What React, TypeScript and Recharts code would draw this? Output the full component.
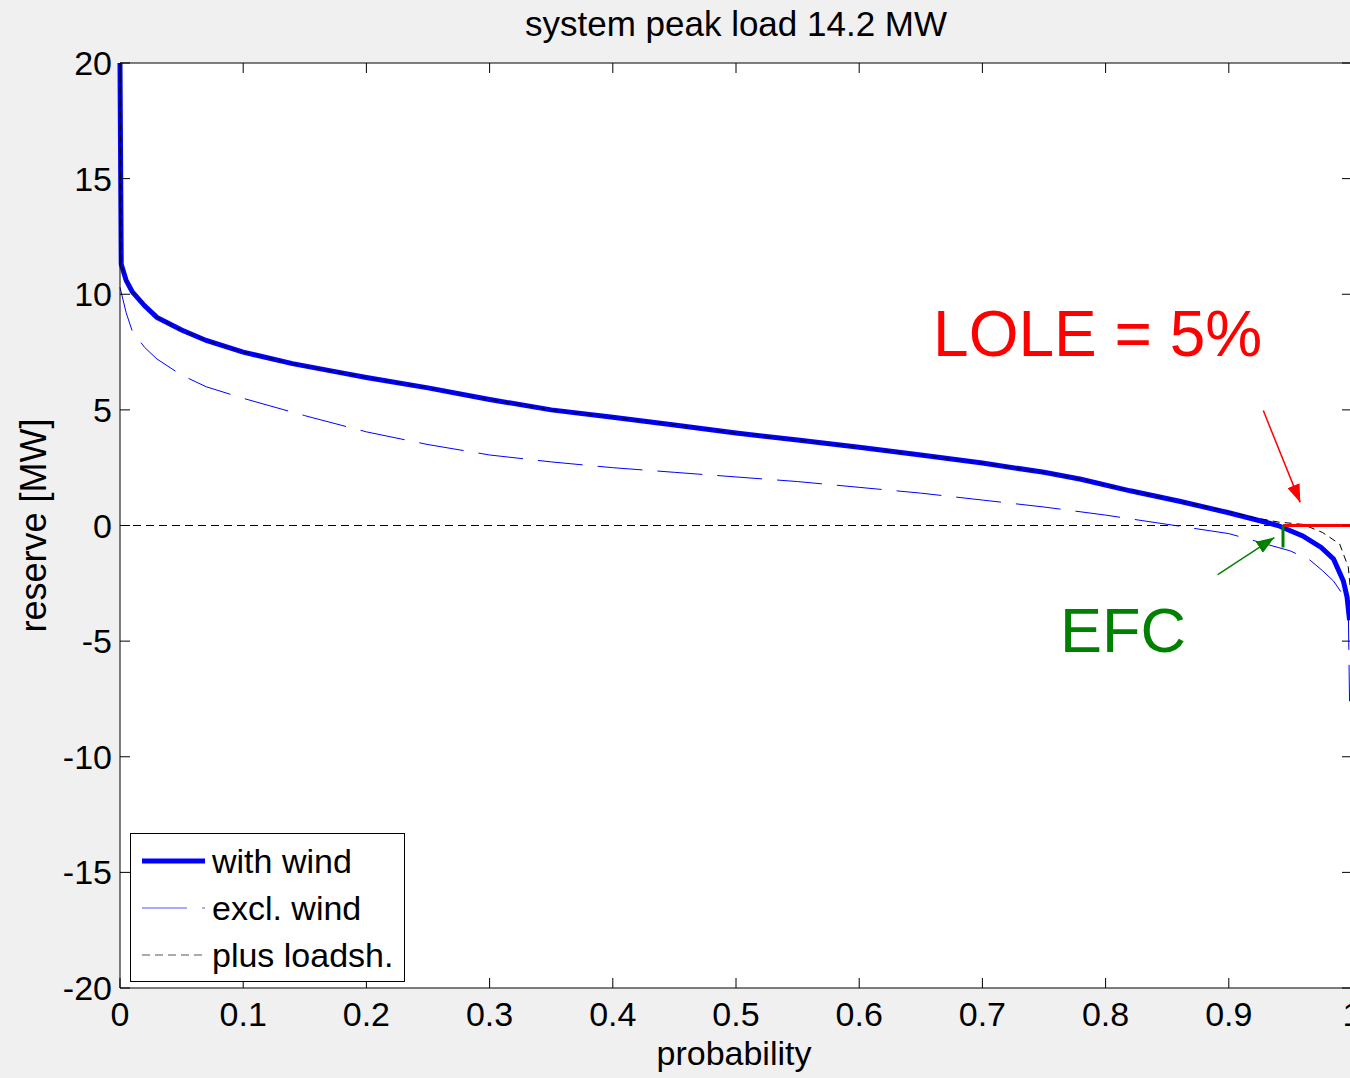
import {
  CartesianGrid,
  Legend,
  Line,
  LineChart,
  ReferenceDot,
  ReferenceLine,
  XAxis,
  YAxis,
} from "recharts";

const FONT = '"Liberation Sans", Arial, Helvetica, sans-serif';

// axis ticks
const xTicks = [0, 0.1, 0.2, 0.3, 0.4, 0.5, 0.6, 0.7, 0.8, 0.9, 1];
const yTicks = [-20, -15, -10, -5, 0, 5, 10, 15, 20];

// [probability, reserve MW]
const withWind: [number, number][] = [
  [0, 20], [0.001, 11.3], [0.005, 10.6], [0.01, 10.1], [0.02, 9.5], [0.03, 9.0],
  [0.05, 8.45], [0.07, 8.0], [0.1, 7.5], [0.14, 7.0], [0.18, 6.6], [0.2, 6.4],
  [0.25, 5.95], [0.3, 5.45], [0.35, 5.0], [0.4, 4.68], [0.45, 4.35], [0.5, 4.0],
  [0.55, 3.7], [0.6, 3.38], [0.65, 3.05], [0.7, 2.7], [0.75, 2.3], [0.78, 2.0],
  [0.82, 1.5], [0.86, 1.05], [0.9, 0.55], [0.94, 0.0], [0.96, -0.45],
  [0.975, -0.95], [0.985, -1.45], [0.993, -2.4], [0.996, -3.1], [0.998, -4.1],
];

const exclWind: [number, number][] = [
  [0, 10.3], [0.005, 9.2], [0.01, 8.4], [0.02, 7.7], [0.03, 7.2], [0.05, 6.5],
  [0.07, 6.0], [0.1, 5.5], [0.15, 4.75], [0.2, 4.05], [0.25, 3.5], [0.3, 3.05],
  [0.35, 2.75], [0.4, 2.5], [0.45, 2.3], [0.5, 2.1], [0.55, 1.9], [0.6, 1.65],
  [0.65, 1.4], [0.7, 1.1], [0.75, 0.8], [0.8, 0.45], [0.85, 0.05], [0.9, -0.35],
  [0.94, -0.95], [0.95, -1.1], [0.966, -1.5], [0.976, -1.95], [0.985, -2.4],
  [0.994, -3.1], [0.997, -3.6], [0.998, -7.6],
];

const plusLoadsh: [number, number][] = [
  [0, 20], [0.001, 11.3], [0.005, 10.6], [0.01, 10.1], [0.02, 9.5], [0.03, 9.0],
  [0.05, 8.45], [0.07, 8.0], [0.1, 7.5], [0.14, 7.0], [0.18, 6.6], [0.2, 6.4],
  [0.25, 5.95], [0.3, 5.45], [0.35, 5.0], [0.4, 4.68], [0.45, 4.35], [0.5, 4.0],
  [0.55, 3.7], [0.6, 3.38], [0.65, 3.05], [0.7, 2.7], [0.75, 2.3], [0.78, 2.0],
  [0.82, 1.5], [0.86, 1.05], [0.9, 0.6], [0.92, 0.35], [0.94, 0.15], [0.96, 0.05],
  [0.976, -0.3], [0.99, -0.8], [0.997, -1.8], [1.0, -3.5],
];

const seriesNames = ["with wind", "excl. wind", "plus loadsh."];

// annotations (data coordinates)
const loleArrow = [{ x: 0.928, y: 4.97 }, { x: 0.958, y: 1.0 }];
const efcArrow = [{ x: 0.891, y: -2.12 }, { x: 0.937, y: -0.52 }];
const loleLevel = [{ x: 0.944, y: 0 }, { x: 1, y: 0 }];
const efcMark = [{ x: 0.944, y: 0 }, { x: 0.944, y: -0.95 }];

const toRows = (pts: [number, number][]) => pts.map(([p, r]) => ({ p, r }));

const CHART_W = 1362;
const CHART_H = 1078;
const Y_AXIS_W = 120;
const X_AXIS_H = 90;
const MARGIN = { top: 63, right: 10, bottom: 0, left: 0 };
const PLOT_W = CHART_W - MARGIN.left - MARGIN.right - Y_AXIS_W;
const PLOT_H = CHART_H - MARGIN.top - MARGIN.bottom - X_AXIS_H;
const TICK = 10;

const XTick = (props: any) => {
  const { x, y, payload } = props;
  return (
    <g>
      <line x1={x} y1={y} x2={x} y2={y - TICK} stroke="#000" />
      <line x1={x} y1={y - PLOT_H} x2={x} y2={y - PLOT_H + TICK} stroke="#000" />
      <text x={x} y={y + 38} textAnchor="middle" fontSize={34} fontFamily={FONT} fill="#000">
        {payload.value}
      </text>
    </g>
  );
};

const YTick = (props: any) => {
  const { x, y, payload } = props;
  return (
    <g>
      <line x1={x} y1={y} x2={x + TICK} y2={y} stroke="#000" />
      <line x1={x + PLOT_W} y1={y} x2={x + PLOT_W - TICK} y2={y} stroke="#000" />
      <text x={x - 8} y={y + 12} textAnchor="end" fontSize={34} fontFamily={FONT} fill="#000">
        {payload.value}
      </text>
    </g>
  );
};

const LegendBox = () => {
  const rows = [28, 75, 122];
  const styles = [
    { stroke: "#0000ff", strokeWidth: 5, dash: undefined },
    { stroke: "#5555ff", strokeWidth: 1, dash: "45 15" },
    { stroke: "#555", strokeWidth: 1, dash: "8 5" },
  ];
  return (
    <svg width={276} height={150} style={{ display: "block" }}>
      <rect x={0.5} y={0.5} width={274} height={148} fill="#fff" stroke="#000" />
      {seriesNames.map((name, i) => (
        <g key={name}>
          <line
            x1={12}
            x2={75}
            y1={rows[i]}
            y2={rows[i]}
            stroke={styles[i].stroke}
            strokeWidth={styles[i].strokeWidth}
            strokeDasharray={styles[i].dash}
          />
          <text x={82} y={rows[i] + 12} fontSize={34} fontFamily={FONT} fill="#000">
            {name}
          </text>
        </g>
      ))}
    </svg>
  );
};

export default function App() {
  return (
    <div
      style={{
        position: "absolute",
        left: 0,
        top: 0,
        width: 1350,
        height: 1078,
        overflow: "hidden",
        background: "#f0f0f0",
        fontFamily: FONT,
      }}
    >
      <svg width={0} height={0} style={{ position: "absolute" }}>
        <defs>
          <marker id="headRed" viewBox="0 0 18 13" refX="18" refY="6.5" markerWidth="18"
            markerHeight="13" markerUnits="userSpaceOnUse" orient="auto">
            <path d="M0,0 L18,6.5 L0,13 z" fill="#ff0000" />
          </marker>
          <marker id="headGreen" viewBox="0 0 18 13" refX="18" refY="6.5" markerWidth="18"
            markerHeight="13" markerUnits="userSpaceOnUse" orient="auto">
            <path d="M0,0 L18,6.5 L0,13 z" fill="#008000" />
          </marker>
        </defs>
      </svg>
      <div
        style={{
          position: "absolute",
          left: MARGIN.left + Y_AXIS_W,
          width: PLOT_W,
          top: 6,
          textAlign: "center",
          fontSize: 35,
          lineHeight: "35px",
          color: "#000",
          zIndex: 2,
        }}
      >
        system peak load 14.2 MW
      </div>
      <LineChart width={CHART_W} height={CHART_H} margin={MARGIN}>
        <CartesianGrid horizontal={false} vertical={false} fill="#fff" />
        <XAxis
          type="number"
          dataKey="p"
          domain={[0, 1]}
          ticks={xTicks}
          interval={0}
          height={X_AXIS_H}
          tickSize={0}
          tickMargin={0}
          tick={<XTick />}
          axisLine={{ stroke: "#000" }}
          tickLine={false}
          label={(props: any) => {
            const vb = props.viewBox;
            return (
              <text x={vb.x + vb.width / 2 - 2} y={vb.y + 77} textAnchor="middle"
                fontSize={34} fontFamily={FONT} fill="#000">
                probability
              </text>
            );
          }}
        />
        <YAxis
          type="number"
          domain={[-20, 20]}
          ticks={yTicks}
          interval={0}
          width={Y_AXIS_W}
          tickSize={0}
          tickMargin={0}
          tick={<YTick />}
          axisLine={{ stroke: "#000" }}
          tickLine={false}
          label={(props: any) => {
            const vb = props.viewBox;
            const cx = vb.x + 46;
            const cy = vb.y + vb.height / 2;
            return (
              <text x={cx} y={cy} transform={`rotate(-90 ${cx} ${cy})`} textAnchor="middle"
                fontSize={36} fontFamily={FONT} fill="#000">
                reserve [MW]
              </text>
            );
          }}
        />
        <ReferenceLine y={20} stroke="#000" />
        <ReferenceLine x={1} stroke="#000" />
        <ReferenceLine y={0} stroke="#000" strokeDasharray="8 5" />
        <Line
          data={toRows(exclWind)}
          dataKey="r"
          name={seriesNames[1]}
          type="linear"
          stroke="#0000ff"
          strokeWidth={1}
          strokeDasharray="45 15"
          dot={false}
          activeDot={false}
          isAnimationActive={false}
        />
        <Line
          data={toRows(withWind)}
          dataKey="r"
          name={seriesNames[0]}
          type="linear"
          stroke="#0000ff"
          strokeWidth={5}
          dot={false}
          activeDot={false}
          isAnimationActive={false}
        />
        <Line
          data={toRows(plusLoadsh)}
          dataKey="r"
          name={seriesNames[2]}
          type="linear"
          stroke="#000"
          strokeWidth={1}
          strokeDasharray="7 5"
          dot={false}
          activeDot={false}
          isAnimationActive={false}
        />
        <ReferenceLine segment={loleLevel} stroke="#ff0000" strokeWidth={3} />
        <ReferenceLine segment={efcMark} stroke="#008000" strokeWidth={3} />
        <ReferenceLine segment={loleArrow} stroke="#ff0000" strokeWidth={1.5} markerEnd="url(#headRed)" />
        <ReferenceLine segment={efcArrow} stroke="#008000" strokeWidth={1.5} markerEnd="url(#headGreen)" />
        <ReferenceDot
          x={0.66}
          y={7.35}
          r={0}
          shape={(p: any) => (
            <text x={p.cx} y={p.cy} fontSize={64} fontFamily={FONT} fill="#ff0000">
              LOLE = 5%
            </text>
          )}
        />
        <ReferenceDot
          x={0.763}
          y={-5.49}
          r={0}
          shape={(p: any) => (
            <text x={p.cx} y={p.cy} fontSize={63} fontFamily={FONT} fill="#008000">
              EFC
            </text>
          )}
        />
        <Legend
          layout="vertical"
          align="center"
          verticalAlign="middle"
          content={() => <LegendBox />}
          wrapperStyle={{ left: 130, top: 833, width: 276, height: 150 }}
        />
      </LineChart>
    </div>
  );
}
